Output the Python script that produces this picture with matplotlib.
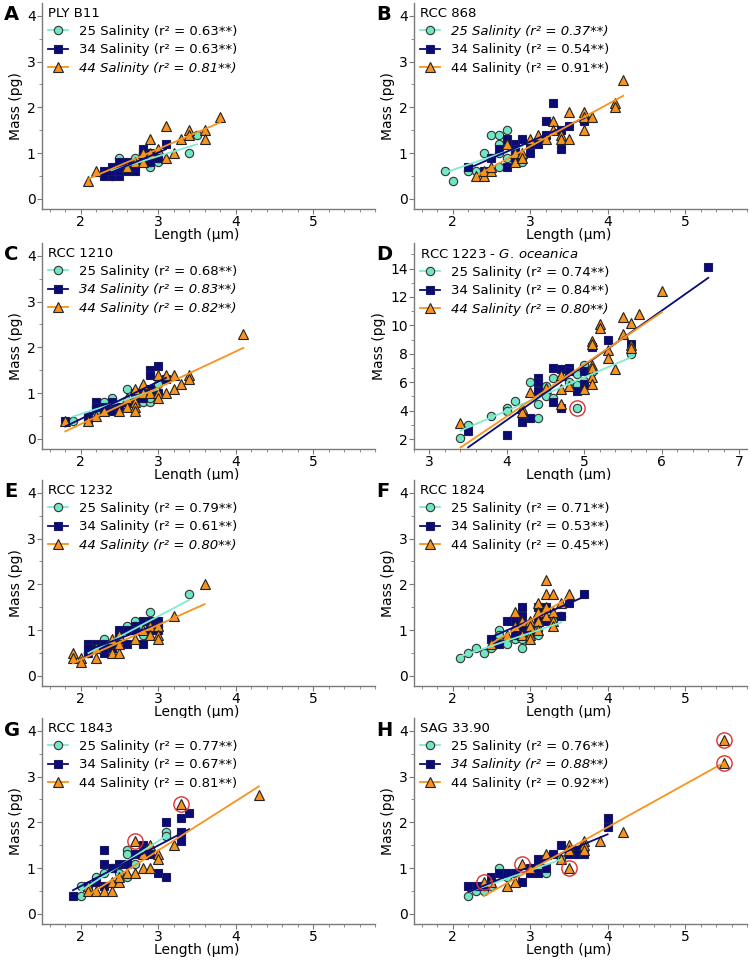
import numpy as np
import matplotlib.pyplot as plt
from matplotlib.lines import Line2D
from matplotlib.ticker import MultipleLocator

plt.rcParams['font.family'] = ['DejaVu Sans']
plt.rcParams['mathtext.fontset'] = 'dejavusans'

# ---- data: (length um, mass pg) ----
A25 = [(2.4,0.5),(2.4,0.6),(2.5,0.9),(2.5,0.6),(2.6,0.7),(2.7,0.9),(2.8,0.9),(2.8,1.0),(2.9,0.7),(2.9,0.8),(3.0,0.8),(3.0,0.9),(3.4,1.0),(3.5,1.4)]
A34 = [(2.3,0.5),(2.3,0.6),(2.4,0.5),(2.4,0.6),(2.4,0.7),(2.5,0.5),(2.5,0.6),(2.5,0.7),(2.5,0.8),(2.6,0.6),(2.6,0.7),(2.6,0.8),(2.7,0.6),(2.7,0.7),(2.8,1.0),(2.8,1.1),(2.9,0.8),(2.9,1.0),(3.0,0.9),(3.1,1.2)]
A44 = [(2.1,0.4),(2.2,0.6),(2.6,0.7),(2.7,0.8),(2.8,0.8),(2.8,1.0),(2.9,1.0),(2.9,1.3),(3.0,1.1),(3.1,1.6),(3.1,0.9),(3.2,1.0),(3.3,1.3),(3.4,1.5),(3.4,1.4),(3.6,1.5),(3.6,1.3),(3.8,1.8)]

B25 = [(1.9,0.6),(2.0,0.4),(2.2,0.6),(2.3,0.6),(2.4,1.0),(2.5,1.4),(2.5,0.9),(2.6,1.4),(2.6,1.2),(2.6,1.0),(2.6,0.7),(2.7,1.5),(2.7,0.9),(2.8,1.0),(2.9,0.8),(2.9,0.9)]
B34 = [(2.2,0.7),(2.4,0.6),(2.5,0.9),(2.6,1.1),(2.7,1.3),(2.7,1.2),(2.7,0.7),(2.8,1.2),(2.8,1.1),(2.8,0.9),(2.9,1.3),(3.0,1.2),(3.0,1.0),(3.1,1.2),(3.2,1.7),(3.2,1.4),(3.3,2.1),(3.4,1.5),(3.4,1.1),(3.5,1.6),(3.7,1.7)]
B44 = [(2.3,0.5),(2.4,0.5),(2.4,0.6),(2.5,0.6),(2.5,0.7),(2.7,1.2),(2.8,0.8),(2.8,1.0),(2.9,1.0),(2.9,0.9),(3.0,1.3),(3.1,1.4),(3.2,1.3),(3.3,1.7),(3.3,1.5),(3.4,1.4),(3.4,1.3),(3.5,1.9),(3.5,1.3),(3.7,1.9),(3.7,1.8),(3.7,1.5),(3.8,1.8),(4.1,2.1),(4.1,2.0),(4.2,2.6)]

C25 = [(1.9,0.4),(2.1,0.5),(2.2,0.6),(2.2,0.7),(2.3,0.8),(2.4,0.9),(2.4,0.7),(2.6,1.1),(2.7,1.0),(2.8,0.8),(2.8,1.1),(2.9,0.8),(2.9,0.9),(3.0,1.2)]
C34 = [(1.8,0.4),(2.1,0.4),(2.1,0.5),(2.2,0.8),(2.2,0.7),(2.3,0.7),(2.3,0.6),(2.4,0.8),(2.4,0.6),(2.5,0.7),(2.6,0.8),(2.7,1.0),(2.7,0.9),(2.8,0.9),(2.8,1.0),(2.9,1.5),(2.9,1.4),(2.9,1.1),(3.0,1.6),(3.0,1.0),(3.1,1.3)]
C44 = [(1.8,0.4),(2.1,0.4),(2.2,0.5),(2.3,0.6),(2.5,0.6),(2.6,0.7),(2.6,0.9),(2.7,1.1),(2.7,0.8),(2.7,0.7),(2.7,0.6),(2.8,1.2),(2.8,1.0),(2.9,1.0),(3.0,1.4),(3.0,1.0),(3.0,0.9),(3.1,1.4),(3.1,1.0),(3.2,1.4),(3.2,1.1),(3.3,1.2),(3.4,1.4),(3.4,1.3),(4.1,2.3)]

D25 = [(3.4,2.1),(3.5,3.0),(3.8,3.6),(4.0,4.2),(4.0,4.0),(4.1,4.7),(4.3,6.0),(4.4,4.5),(4.4,3.5),(4.5,5.7),(4.5,5.0),(4.6,6.3),(4.6,4.9),(4.8,6.0),(4.9,6.6),(4.9,5.8),(4.9,4.2),(5.0,7.2),(5.0,6.1),(5.1,6.7),(5.6,8.0)]
D34 = [(3.5,2.6),(4.0,2.3),(4.2,3.2),(4.3,3.5),(4.4,6.3),(4.4,6.0),(4.4,5.4),(4.6,7.0),(4.6,4.6),(4.7,6.9),(4.7,4.2),(4.8,7.0),(4.8,6.8),(4.9,5.4),(5.0,6.8),(5.0,5.9),(5.1,8.5),(5.3,9.0),(5.6,8.7),(6.6,14.1)]
D44 = [(3.4,3.1),(4.2,4.2),(4.2,3.9),(4.3,5.3),(4.5,5.6),(4.7,6.5),(4.7,5.5),(4.7,4.5),(4.8,5.7),(5.0,5.5),(5.1,8.9),(5.1,8.7),(5.1,7.2),(5.1,7.0),(5.1,6.4),(5.1,5.9),(5.2,10.1),(5.2,9.8),(5.3,8.3),(5.3,7.7),(5.4,6.9),(5.5,10.6),(5.5,9.4),(5.6,10.2),(5.6,8.6),(5.6,8.4),(5.7,10.8),(6.0,12.4)]

E25 = [(2.1,0.5),(2.2,0.6),(2.3,0.8),(2.4,0.7),(2.4,0.6),(2.5,0.9),(2.6,1.1),(2.7,1.2),(2.7,1.1),(2.8,1.1),(2.8,0.9),(2.9,1.4),(2.9,1.0),(3.0,1.1),(3.4,1.8)]
E34 = [(2.1,0.7),(2.1,0.6),(2.1,0.5),(2.2,0.7),(2.2,0.6),(2.3,0.7),(2.3,0.5),(2.4,0.6),(2.5,1.0),(2.5,0.8),(2.6,1.0),(2.6,0.7),(2.7,1.1),(2.7,1.0),(2.8,1.2),(2.8,0.7),(2.9,1.2),(2.9,1.0),(3.0,1.2),(3.0,1.0)]
E44 = [(1.9,0.5),(1.9,0.4),(2.0,0.4),(2.0,0.3),(2.2,0.4),(2.2,0.6),(2.4,0.5),(2.4,0.8),(2.5,0.5),(2.5,0.9),(2.5,0.7),(2.7,0.8),(2.8,1.0),(2.9,1.1),(2.9,0.9),(3.0,1.1),(3.0,0.9),(3.0,0.8),(3.2,1.3),(3.6,2.0)]

F25 = [(2.1,0.4),(2.2,0.5),(2.3,0.6),(2.4,0.5),(2.5,0.6),(2.6,1.0),(2.6,0.9),(2.7,0.7),(2.8,0.8),(2.9,0.8),(2.9,0.6),(3.0,0.9),(3.1,0.9),(3.1,1.0),(3.3,1.2),(3.4,1.3)]
F34 = [(2.5,0.8),(2.6,0.7),(2.7,1.2),(2.8,1.2),(2.8,0.9),(2.9,1.5),(2.9,1.3),(2.9,1.0),(3.0,1.0),(3.1,1.5),(3.1,1.2),(3.2,1.2),(3.2,1.5),(3.4,1.3),(3.5,1.6),(3.7,1.8)]
F44 = [(2.5,0.7),(2.7,0.9),(2.8,1.4),(2.8,1.1),(2.9,1.2),(2.9,0.9),(3.0,1.2),(3.0,1.1),(3.0,0.9),(3.0,0.8),(3.1,1.6),(3.1,1.4),(3.1,1.2),(3.1,1.0),(3.2,2.1),(3.2,1.8),(3.2,1.5),(3.2,1.3),(3.3,1.8),(3.3,1.4),(3.3,1.2),(3.3,1.1),(3.4,1.6),(3.5,1.8)]

G25 = [(2.0,0.6),(2.0,0.4),(2.1,0.6),(2.2,0.8),(2.3,0.9),(2.4,1.0),(2.5,0.9),(2.6,1.4),(2.6,1.3),(2.6,0.8),(2.7,1.1),(3.1,1.8),(3.1,1.7)]
G34 = [(1.9,0.4),(2.1,0.6),(2.2,0.7),(2.3,1.4),(2.3,1.1),(2.3,0.6),(2.4,1.0),(2.5,1.1),(2.6,1.1),(2.7,1.3),(2.8,1.5),(2.8,1.4),(2.9,1.3),(3.0,0.9),(3.1,2.0),(3.1,0.8),(3.3,2.1),(3.3,1.8),(3.3,1.7),(3.3,1.6),(3.4,2.2)]
G44 = [(2.1,0.6),(2.1,0.5),(2.2,0.5),(2.3,0.5),(2.4,0.5),(2.4,0.7),(2.5,0.7),(2.5,0.8),(2.6,0.9),(2.7,1.6),(2.7,0.9),(2.8,1.0),(2.8,1.3),(2.9,1.5),(2.9,1.0),(3.0,1.3),(3.0,1.2),(3.2,1.5),(3.3,2.4),(4.3,2.6)]

H25 = [(2.2,0.4),(2.3,0.5),(2.4,0.5),(2.4,0.6),(2.5,0.6),(2.6,1.0),(2.7,0.8),(2.8,0.9),(3.0,1.0),(3.1,1.0),(3.2,0.9),(3.4,1.2)]
H34 = [(2.2,0.6),(2.3,0.6),(2.4,0.6),(2.5,0.8),(2.6,0.9),(2.7,0.9),(2.8,0.9),(2.9,0.7),(3.0,1.0),(3.0,0.9),(3.1,1.2),(3.1,0.9),(3.2,1.0),(3.3,1.3),(3.4,1.5),(3.5,1.4),(3.5,1.3),(3.6,1.4),(3.6,1.3),(3.7,1.3),(4.0,2.1),(4.0,1.9)]
H44 = [(2.4,0.7),(2.5,0.7),(2.7,0.6),(2.8,0.7),(2.9,1.1),(3.0,1.0),(3.2,1.3),(3.4,1.2),(3.5,1.5),(3.5,1.4),(3.5,1.0),(3.7,1.6),(3.7,1.5),(3.7,1.4),(3.9,1.6),(4.2,1.8),(5.5,3.8),(5.5,3.3)]

# circled points
D_out = [(4.9,4.2)]
G_out = [(2.7,1.6),(3.3,2.4)]
H_out = [(2.4,0.7),(2.9,1.1),(3.5,1.0),(5.5,3.8),(5.5,3.3)]

letters = ['A','B','C','D','E','F','G','H']
strains = ['PLY B11','RCC 868','RCC 1210',r'RCC 1223 - $\mathit{G.\,oceanica}$',
           'RCC 1232','RCC 1824','RCC 1843','SAG 33.90']
r2 = [[0.63,0.63,0.81],[0.37,0.54,0.91],[0.68,0.83,0.82],[0.74,0.84,0.80],
      [0.79,0.61,0.80],[0.71,0.53,0.45],[0.77,0.67,0.81],[0.76,0.88,0.92]]
italic = [[0,0,1],[1,0,0],[0,1,1],[0,0,1],[0,0,1],[0,0,0],[0,0,0],[0,1,0]]
salinity = ['25','34','44']

panels = [(A25,A34,A44),(B25,B34,B44),(C25,C34,C44),(D25,D34,D44),
          (E25,E34,E44),(F25,F34,F44),(G25,G34,G44),(H25,H34,H44)]
outliers = [[],[],[],D_out,[],[],G_out,H_out]

# style per salinity
line_col = ['#7fecd0','#0a0a78','#f7931e']
face_col = ['#6fe6c4','#0a0a78','#f7931e']
edge_col = ['#333333','#1a1a60','#222222']
markers = ['o','s','^']
msizes = [6,6,7.5]

fig = plt.figure(figsize=(7.5,9.6), dpi=100)
W, H = 750., 960.
col_left = [42, 414]
row_top = [3, 243, 480, 718]
ax_w, ax_h = 333, 206

for i in range(8):
    r, c = i // 2, i % 2
    ax = fig.add_axes([col_left[c]/W, 1-(row_top[r]+ax_h)/H, ax_w/W, ax_h/H])
    for k in range(3):
        pts = np.array(panels[i][k])
        ax.plot(pts[:,0], pts[:,1], ls='none', marker=markers[k], ms=msizes[k],
                mfc=face_col[k], mec=edge_col[k], mew=0.8, zorder=2+k)
    for k in range(3):
        pts = np.array(panels[i][k])
        m, b = np.polyfit(pts[:,0], pts[:,1], 1)
        xx = np.array([pts[:,0].min(), pts[:,0].max()])
        ax.plot(xx, m*xx+b, color=line_col[k], lw=1.3, zorder=6)
    if outliers[i]:
        o = np.array(outliers[i])
        ax.plot(o[:,0], o[:,1], ls='none', marker='o', ms=11, mfc='none',
                mec='#e03030', mew=1.0, zorder=7)

    if i == 3:
        ax.set_xlim(2.8, 7.1)
        ax.set_ylim(1.3, 15.8)
        ax.yaxis.set_major_locator(MultipleLocator(2))
        ax.yaxis.set_minor_locator(MultipleLocator(1))
    else:
        ax.set_xlim(1.5, 5.8)
        ax.set_ylim(-0.22, 4.28)
        ax.yaxis.set_major_locator(MultipleLocator(1))
        ax.yaxis.set_minor_locator(MultipleLocator(0.5))
    ax.xaxis.set_major_locator(MultipleLocator(1))
    ax.xaxis.set_minor_locator(MultipleLocator(0.2))

    for s in ['top','right']:
        ax.spines[s].set_visible(False)
    for s in ['left','bottom']:
        ax.spines[s].set_color('#7a7a7a')
        ax.spines[s].set_linewidth(1.0)
    ax.tick_params(which='major', length=3.5, color='#7a7a7a', labelsize=10, pad=1)
    ax.tick_params(which='minor', length=2, color='#7a7a7a')
    ax.set_xlabel('Length (µm)', fontsize=10, labelpad=0)
    ax.set_ylabel('Mass (pg)', fontsize=10, labelpad=3)
    ax.xaxis.set_label_coords(0.465, -0.09)

    handles = [Line2D([], [], color=line_col[k], lw=1.3, marker=markers[k],
                      ms=msizes[k], mfc=face_col[k], mec=edge_col[k], mew=0.8)
               for k in range(3)]
    labels = ['%s Salinity (r² = %.2f**)' % (salinity[k], r2[i][k]) for k in range(3)]
    leg = ax.legend(handles, labels, loc='upper left', bbox_to_anchor=(0.01, 0.995),
                    frameon=False, fontsize=9.5, title=strains[i], title_fontsize=9.5,
                    alignment='left', handlelength=1.55, handletextpad=0.8,
                    labelspacing=0.4, borderpad=0.2, borderaxespad=0.0)
    for k, t in enumerate(leg.get_texts()):
        if italic[i][k]:
            t.set_fontstyle('italic')

    fig.text((col_left[c]-38)/W, 1-(row_top[r]+12)/H, letters[i],
             fontsize=14, fontweight='bold', va='center', ha='left')

fig.savefig('out.png', dpi=100)
